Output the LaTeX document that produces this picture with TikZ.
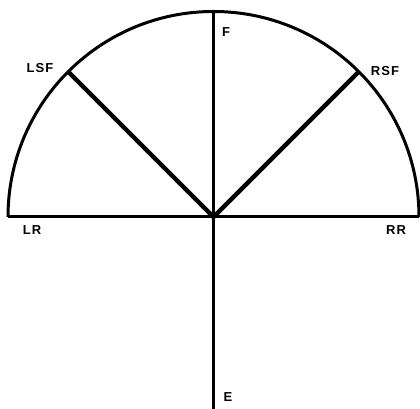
\documentclass[tikz,border=0pt]{standalone}
\usepackage{fontspec}
\setmainfont{Liberation Sans}
\newfontfamily\lblfont[LetterSpace=8]{Liberation Sans}
\begin{document}
\begin{tikzpicture}[x=1pt,y=1pt,line width=3pt,
  lbl/.style={font=\fontsize{13}{15}\selectfont\lblfont\bfseries,inner sep=0pt}]
  \useasboundingbox (-213.5,-192) rectangle (206.5,217);
  % centre and points on the rim
  \coordinate (O) at (0,0);
  \coordinate (lr) at (180:205.5);
  \coordinate (rr) at (0:205.5);
  \coordinate (f) at (90:205.5);
  \coordinate (lsf) at (135:205.5);
  \coordinate (rsf) at (45:205.5);
  \coordinate (e) at (0,-193);
  \draw (lr) -- (rr);
  \draw (rr) arc[start angle=0,end angle=180,radius=205.5];
  \draw (f) -- (e);
  \draw[line width=4.5pt] (lsf) -- (O) -- (rsf);
  % labels
  \node[lbl] (fl) at (12.5,185) {F};
  \node[lbl] (lsfl) at (-173.5,149) {LSF};
  \node[lbl] (rsfl) at (171.5,146) {RSF};
  \node[lbl] (lrl) at (-181.5,-13) {LR};
  \node[lbl] (rrl) at (182.5,-13) {RR};
  \node[lbl] (el) at (14.5,-180) {E};
\end{tikzpicture}
\end{document}
